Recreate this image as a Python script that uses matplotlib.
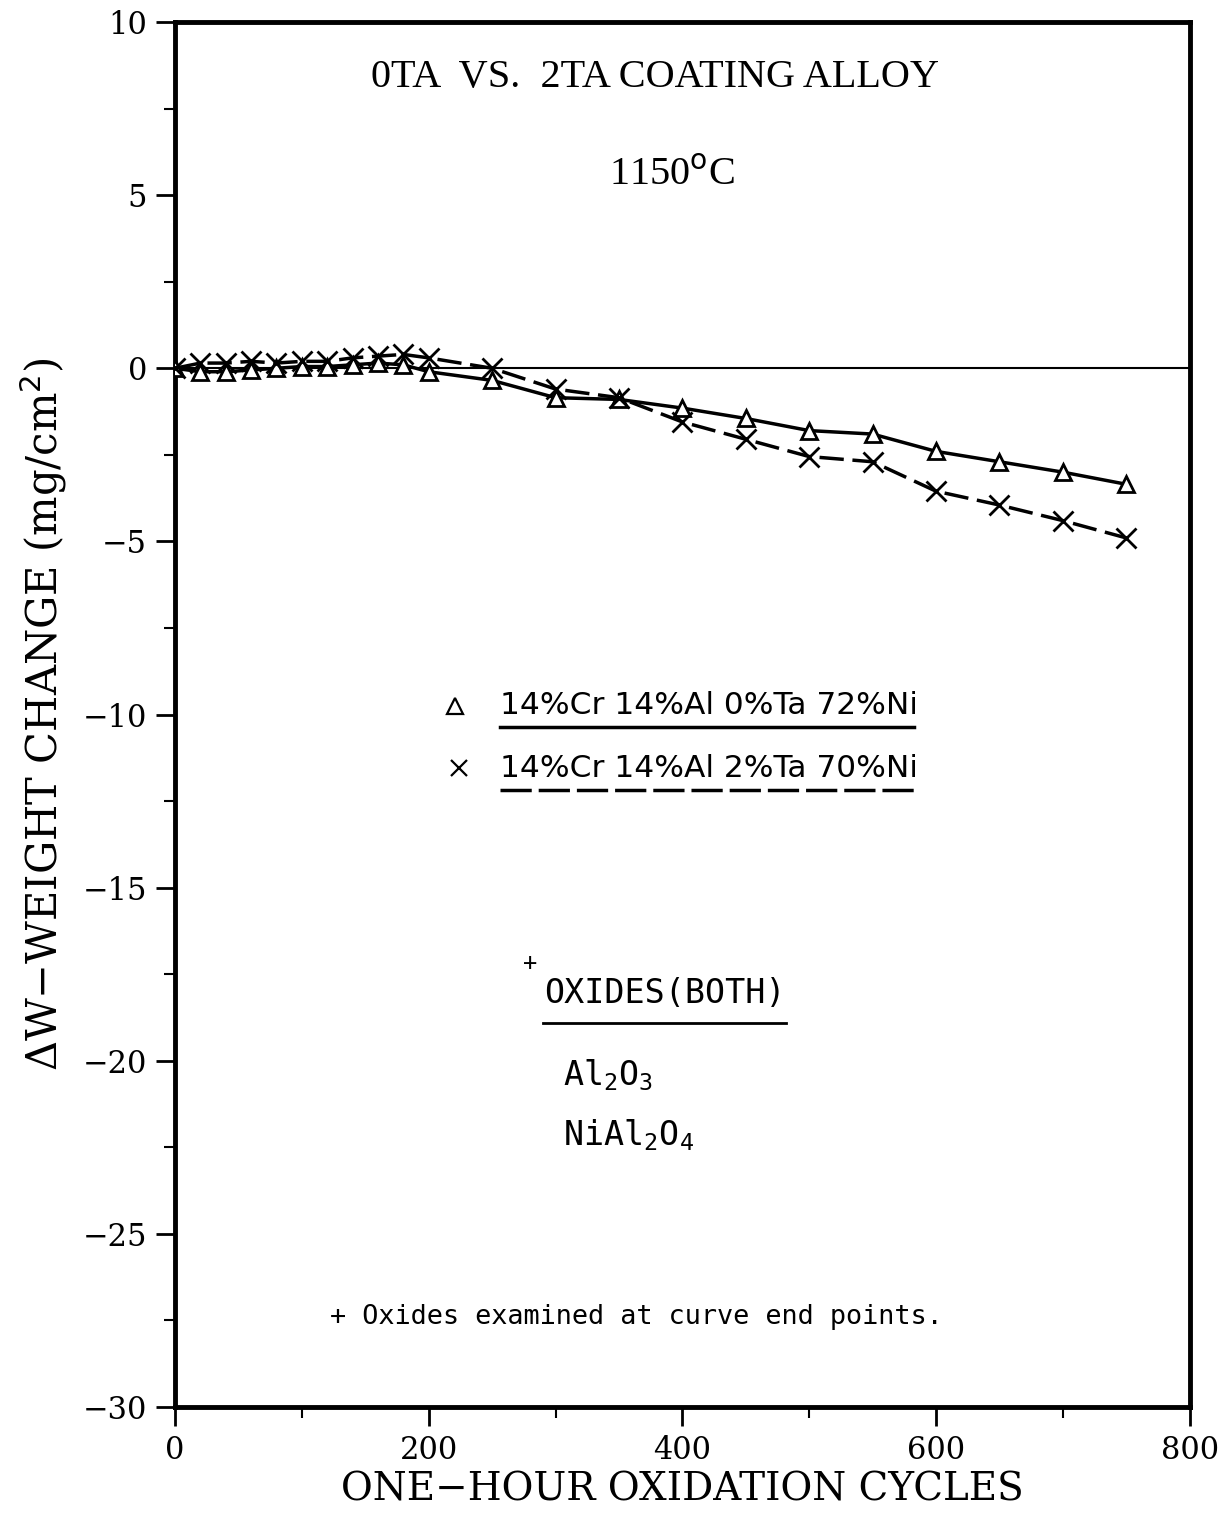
import numpy as np
import matplotlib
matplotlib.use("Agg")
import matplotlib.pyplot as plt

# Data
cycles = [0, 20, 40, 60, 80, 100, 120, 140, 160, 180, 200,
          250, 300, 350, 400, 450, 500, 550, 600, 650, 700, 750]
dw_0ta = [0.0, -0.1, -0.1, -0.05, 0.0, 0.05, 0.05, 0.1, 0.15, 0.1, -0.1,
          -0.35, -0.85, -0.9, -1.15, -1.45, -1.8, -1.9, -2.4, -2.7, -3.0, -3.35]
dw_2ta = [0.0, 0.15, 0.15, 0.2, 0.15, 0.2, 0.2, 0.3, 0.35, 0.4, 0.3,
          0.0, -0.6, -0.85, -1.55, -2.05, -2.55, -2.7, -3.55, -3.95, -4.4, -4.9]

label_0ta = "14%Cr 14%Al 0%Ta 72%Ni"
label_2ta = "14%Cr 14%Al 2%Ta 70%Ni"

x_ticks = [0, 200, 400, 600, 800]
y_ticks = [10, 5, 0, -5, -10, -15, -20, -25, -30]

serif = "DejaVu Serif"
mono = "DejaVu Sans Mono"

fig = plt.figure(figsize=(12.29, 15.18), dpi=100)
ax = fig.add_axes([0.1424, 0.0731, 0.8256, 0.9124])

# zero line
ax.axhline(0, color="black", lw=1.5, zorder=1)

# curves
ax.plot(cycles, dw_0ta, color="black", lw=2.5, marker="^", ms=12,
        mfc="white", mec="black", mew=2, zorder=3)
ax.plot(cycles, dw_2ta, color="black", lw=2.5, ls=(0, (7, 2.5)), marker="x",
        ms=14, mew=2, zorder=3)

ax.set_xlim(0, 800)
ax.set_ylim(-30, 10)
ax.set_xticks(x_ticks)
ax.set_yticks(y_ticks)
ax.set_xticks(np.arange(100, 800, 200), minor=True)
ax.set_yticks(np.arange(-27.5, 10, 5), minor=True)
ax.set_yticklabels([str(v).replace("-", "\u2212") for v in y_ticks])
ax.tick_params(axis="both", which="major", direction="out", length=14,
               width=2, labelsize=22, pad=6)
ax.tick_params(axis="both", which="minor", direction="out", length=8, width=1.5)
for lab in ax.get_xticklabels() + ax.get_yticklabels():
    lab.set_fontfamily(serif)
for s in ax.spines.values():
    s.set_linewidth(3.5)

ax.set_xlabel("ONE\u2212HOUR OXIDATION CYCLES", fontsize=28, family=serif,
              labelpad=4)
ax.set_ylabel("\u0394W\u2212WEIGHT CHANGE (mg/cm$^2$)", fontsize=30,
              family=serif, labelpad=10)

# title text
ax.text(0.473, 0.96, "0TA  VS.  2TA COATING ALLOY", transform=ax.transAxes,
        ha="center", va="center", fontsize=29, family="Liberation Serif")
ax.text(0.49, 0.889, "1150$^{\\rm o}$C", transform=ax.transAxes,
        ha="center", va="center", fontsize=29, family="Liberation Serif")

# legend (hand-made, underlined)
ax.plot([221], [-9.75], marker="^", ms=11, mfc="white", mec="black", mew=1.6,
        ls="none")
ax.text(256, -9.75, label_0ta, va="center", ha="left", fontsize=22.5,
        family="DejaVu Sans")
ax.plot([256, 583], [-10.37, -10.37], color="black", lw=2.5)

ax.plot([224], [-11.55], marker="x", ms=12, mec="black", mew=1.6, ls="none")
ax.text(256, -11.55, label_2ta, va="center", ha="left", fontsize=22.5,
        family="DejaVu Sans")
ax.plot([256, 583], [-12.19, -12.19], color="black", lw=2.5, ls=(0, (9, 2)))

# oxide notes
ax.text(280, -17.18, "+", va="center", ha="center", fontsize=17, family=mono)
ax.text(291, -18.05, "OXIDES(BOTH)", va="center", ha="left", fontsize=24,
        family=mono)
ax.plot([290, 482], [-18.91, -18.91], color="black", lw=2)
ax.text(306, -20.42, "Al$_{\\mathtt{2}}$O$_{\\mathtt{3}}$", va="center",
        ha="left", fontsize=24, family=mono)
ax.text(306, -22.15, "NiAl$_{\\mathtt{2}}$O$_{\\mathtt{4}}$", va="center",
        ha="left", fontsize=24, family=mono)

ax.text(122, -27.4, "+ Oxides examined at curve end points.", va="center",
        ha="left", fontsize=19.4, family=mono)

fig.savefig("out.png", dpi=100)
